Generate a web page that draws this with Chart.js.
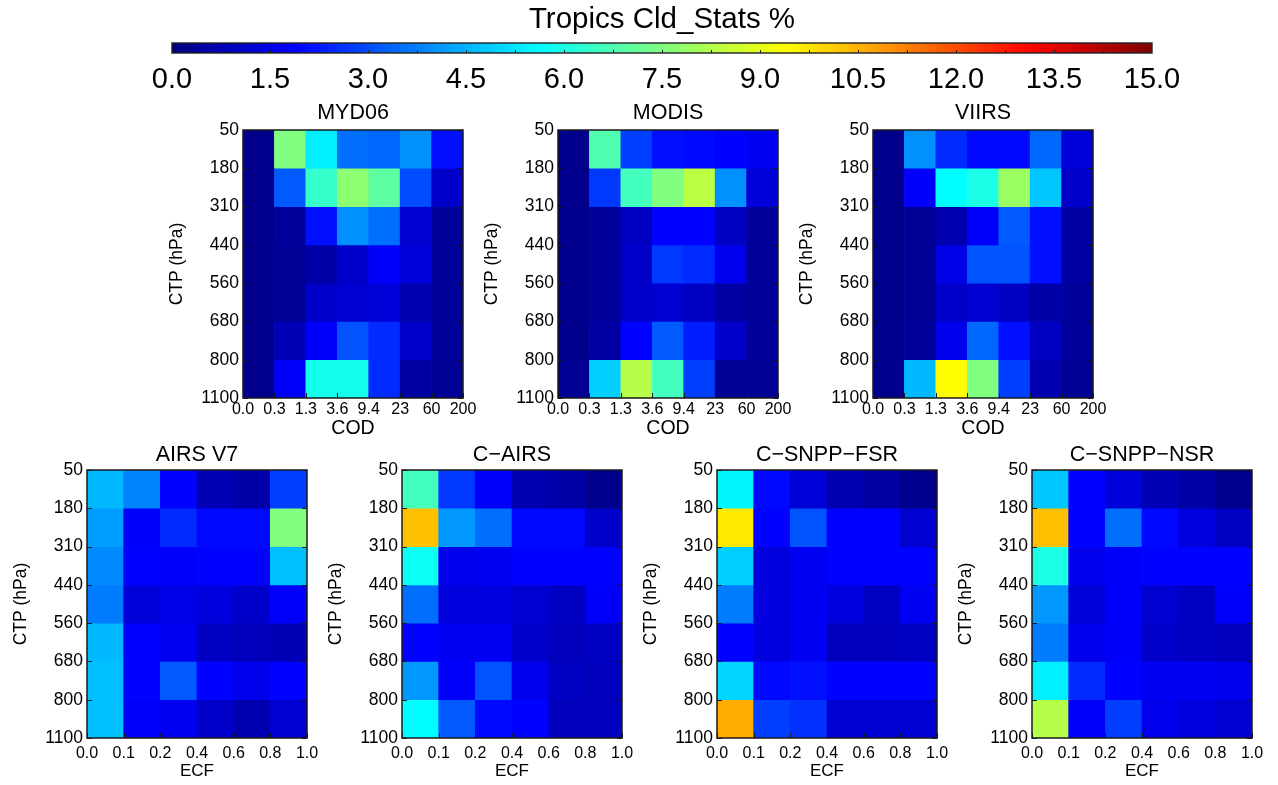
<!DOCTYPE html>
<html>
<head>
<meta charset="utf-8">
<title>Tropics Cld_Stats %</title>
<script src="https://cdn.jsdelivr.net/npm/chart.js@4.4.1/dist/chart.umd.min.js"></script>
<style>
  html, body { margin: 0; padding: 0; background: #fff; overflow: hidden; }
  #page { position: relative; width: 1278px; height: 785px; }
  .panel { position: absolute; }
</style>
</head>
<body>
<div id="page"></div>
<script>
// ---- data ----
const codEdges = ["0.0", "0.3", "1.3", "3.6", "9.4", "23", "60", "200"];
const ecfEdges = ["0.0", "0.1", "0.2", "0.4", "0.6", "0.8", "1.0"];
const ctpEdges = ["50", "180", "310", "440", "560", "680", "800", "1100"];
const colorMin = 0;
const colorMax = 15;
const colorStep = 1.5;

// rows top -> bottom (50-180 ... 800-1100), columns left -> right
const myd06 = [
  [0.2, 7.5, 5.4, 3.5, 3.4, 4.0, 2.1],
  [0.2, 3.2, 6.4, 7.7, 7.0, 3.0, 1.1],
  [0.2, 0.4, 2.1, 4.0, 3.5, 1.2, 0.4],
  [0.2, 0.3, 0.6, 1.1, 1.8, 1.3, 0.4],
  [0.2, 0.3, 1.1, 1.2, 1.3, 0.7, 0.4],
  [0.2, 0.8, 1.8, 3.1, 2.5, 1.1, 0.4],
  [0.2, 1.8, 5.9, 5.9, 2.5, 0.5, 0.3]
];
const modis = [
  [0.2, 6.8, 2.8, 2.1, 2.0, 1.9, 1.7],
  [0.2, 2.7, 6.6, 7.5, 8.4, 4.0, 1.3],
  [0.2, 0.4, 1.0, 1.9, 1.9, 1.0, 0.4],
  [0.2, 0.4, 1.1, 2.7, 2.5, 1.6, 0.4],
  [0.2, 0.4, 1.1, 1.2, 1.0, 0.5, 0.4],
  [0.2, 0.5, 1.9, 3.2, 2.3, 1.1, 0.4],
  [0.3, 4.9, 8.3, 6.6, 2.8, 0.3, 0.3]
];
const viirs = [
  [0.2, 4.0, 2.5, 2.0, 2.0, 3.4, 1.3],
  [0.2, 1.8, 5.6, 6.0, 7.9, 4.8, 1.1],
  [0.2, 0.3, 0.7, 1.8, 3.2, 2.1, 0.5],
  [0.2, 0.3, 1.5, 3.1, 3.1, 2.1, 0.5],
  [0.2, 0.3, 1.1, 1.2, 1.0, 0.6, 0.4],
  [0.2, 0.4, 1.6, 3.4, 2.1, 1.0, 0.4],
  [0.2, 4.6, 9.4, 7.5, 2.8, 0.7, 0.3]
];
const airsV7 = [
  [4.6, 3.8, 1.9, 0.8, 0.6, 2.8],
  [4.2, 1.8, 2.5, 2.0, 2.0, 7.5],
  [3.9, 1.9, 1.8, 1.9, 1.9, 4.7],
  [3.7, 1.3, 1.5, 1.4, 1.1, 1.8],
  [4.6, 1.9, 1.7, 1.0, 0.9, 0.8],
  [4.7, 1.9, 3.2, 1.9, 1.6, 1.9],
  [4.7, 1.8, 1.7, 1.1, 0.7, 1.2]
];
const cAirs = [
  [6.6, 2.7, 1.8, 0.7, 0.6, 0.2],
  [10.3, 4.1, 3.5, 2.0, 2.0, 1.1],
  [5.8, 1.6, 1.7, 1.9, 1.9, 1.9],
  [3.5, 1.4, 1.4, 1.2, 1.0, 1.8],
  [1.9, 1.7, 1.7, 1.1, 0.9, 1.0],
  [4.1, 1.8, 3.1, 1.6, 1.0, 0.9],
  [5.6, 3.2, 2.0, 1.9, 0.9, 0.9]
];
const cSnppFsr = [
  [5.5, 2.0, 1.3, 0.7, 0.5, 0.2],
  [9.7, 1.9, 3.1, 1.9, 1.9, 1.2],
  [4.9, 1.4, 1.7, 1.9, 1.9, 1.9],
  [3.7, 1.4, 1.7, 1.4, 1.0, 1.7],
  [1.9, 1.4, 1.7, 0.9, 0.9, 1.0],
  [5.0, 2.0, 2.1, 1.9, 1.9, 1.9],
  [10.6, 2.8, 2.6, 1.2, 1.2, 1.2]
];
const cSnppNsr = [
  [4.8, 1.9, 1.3, 0.8, 0.6, 0.2],
  [10.3, 1.9, 3.5, 2.0, 1.4, 1.0],
  [6.0, 1.6, 1.8, 1.9, 1.9, 1.9],
  [4.1, 1.3, 1.8, 1.2, 1.0, 1.8],
  [3.7, 1.6, 1.8, 1.1, 1.0, 0.9],
  [5.4, 2.5, 1.9, 1.7, 1.7, 1.6],
  [8.3, 1.8, 2.8, 1.6, 1.4, 1.2]
];

const FONT = "'Liberation Sans', Arial, Helvetica, sans-serif";

// jet colour map, 0..15 %
function jet(v) {
  const t = Math.max(0, Math.min(1, (v - colorMin) / (colorMax - colorMin)));
  const f = (x) => Math.round(255 * Math.max(0, Math.min(1, 1.5 - Math.abs(x))));
  return "rgb(" + f(4 * t - 3) + "," + f(4 * t - 2) + "," + f(4 * t - 1) + ")";
}

/* ==========================
   PLUGINS
========================== */
// black frame + short inward ticks like the IDL plots
const frameTicks = {
  id: "frameTicks",
  afterDatasetsDraw(chart) {
    const { ctx, chartArea: a, scales } = chart;
    const len = 5;
    ctx.save();
    ctx.strokeStyle = "#1a1a1a";
    ctx.lineWidth = 1;
    ctx.beginPath();
    scales.x.ticks.forEach((t) => {
      const px = Math.round(scales.x.getPixelForValue(t.value)) + 0.5;
      ctx.moveTo(px, a.bottom);
      ctx.lineTo(px, a.bottom - len);
    });
    scales.y.ticks.forEach((t) => {
      const py = Math.round(scales.y.getPixelForValue(t.value)) + 0.5;
      ctx.moveTo(a.left, py);
      ctx.lineTo(a.left + len, py);
      ctx.moveTo(a.right, py);
      ctx.lineTo(a.right - len, py);
    });
    ctx.stroke();
    ctx.lineWidth = 1.5;
    ctx.strokeRect(a.left, a.top, a.right - a.left, a.bottom - a.top);
    ctx.restore();
  }
};

// gradient fill for the colour bar
const colorbarFill = {
  id: "colorbarFill",
  beforeDatasetsDraw(chart) {
    const { ctx, chartArea: a, scales: { x } } = chart;
    const g = ctx.createLinearGradient(a.left, 0, a.right, 0);
    [0, 0.125, 0.375, 0.625, 0.875, 1].forEach((s) => {
      g.addColorStop(s, jet(colorMin + s * (colorMax - colorMin)));
    });
    ctx.save();
    ctx.fillStyle = g;
    ctx.fillRect(a.left, a.top, a.right - a.left, a.bottom - a.top);
    ctx.strokeStyle = "#222";
    ctx.lineWidth = 1;
    ctx.beginPath();
    for (let v = colorStep / 2; v < colorMax; v += colorStep / 2) {
      const px = Math.round(x.getPixelForValue(v)) + 0.5;
      ctx.moveTo(px, a.bottom);
      ctx.lineTo(px, a.bottom - 3);
    }
    ctx.stroke();
    ctx.lineWidth = 1.4;
    ctx.strokeRect(a.left, a.top, a.right - a.left, a.bottom - a.top);
    ctx.restore();
  }
};

/* ==========================
   HELPERS
========================== */
function addCanvas(left, top, w, h) {
  const div = document.createElement("div");
  div.className = "panel";
  div.style.left = left + "px";
  div.style.top = top + "px";
  const c = document.createElement("canvas");
  c.width = w;
  c.height = h;
  c.style.width = w + "px";
  c.style.height = h + "px";
  div.appendChild(c);
  document.getElementById("page").appendChild(div);
  return c;
}

function buildDatasets(values) {
  return values.map((row, r) => ({
    label: ctpEdges[r] + "-" + ctpEdges[r + 1],
    data: row.map((v, c) => ({ x: c + 0.5, y: [r, r + 1], v: v })),
    backgroundColor: row.map(jet),
    borderWidth: 0,
    barPercentage: 1,
    categoryPercentage: 1,
    grouped: false
  }));
}

function createPanel(p) {
  const W = 325, H = 343;
  const canvas = addCanvas(p.left, p.top, W, H);
  const bottomRow = p.xEdges.length === 7;
  const nCols = p.xEdges.length - 1;
  return new Chart(canvas, {
    type: "bar",
    data: { datasets: buildDatasets(p.values) },
    options: {
      responsive: false,
      animation: false,
      layout: { padding: { left: 0, right: 25, top: 0, bottom: 0 } },
      plugins: {
        legend: { display: false },
        tooltip: { enabled: false },
        title: {
          display: true,
          fullSize: false,
          text: p.title,
          color: "#000",
          font: { family: FONT, size: 21.5, weight: "normal", lineHeight: 1.2 },
          padding: bottomRow ? { top: 2.1, bottom: 2.1 } : { top: 0.6, bottom: 3.6 }
        }
      },
      scales: {
        x: {
          type: "linear",
          offset: false,
          min: 0,
          max: nCols,
          grid: { display: false, drawTicks: false },
          border: { display: false },
          ticks: {
            stepSize: 1,
            autoSkip: false,
            maxRotation: 0,
            minRotation: 0,
            color: "#000",
            padding: bottomRow ? 6 : 2,
            font: { family: FONT, size: 16 },
            callback: (v) => p.xEdges[v]
          },
          title: {
            display: true,
            text: p.xTitle,
            color: "#000",
            font: { family: FONT, size: bottomRow ? 17 : 19.5, lineHeight: 1.2 },
            padding: { top: 0, bottom: bottomRow ? 1 : 2.5 }
          },
          afterFit: (s) => { s.height = 45; }
        },
        y: {
          type: "linear",
          offset: false,
          min: 0,
          max: ctpEdges.length - 1,
          reverse: true,
          grid: { display: false, drawTicks: false },
          border: { display: false },
          ticks: {
            stepSize: 1,
            autoSkip: false,
            color: "#000",
            padding: 4,
            font: { family: FONT, size: 17.5 },
            callback: (v) => ctpEdges[v]
          },
          title: {
            display: true,
            text: "CTP (hPa)",
            color: "#000",
            font: { family: FONT, size: 17.5, lineHeight: 1.2 },
            padding: { top: 3.5, bottom: 0 }
          },
          afterFit: (s) => { s.width = 80; }
        }
      }
    },
    plugins: [frameTicks]
  });
}

function createColorbar() {
  const canvas = addCanvas(0, 0, 1278, 100);
  return new Chart(canvas, {
    type: "bar",
    data: { datasets: [] },
    options: {
      responsive: false,
      animation: false,
      layout: { padding: { left: 172, right: 126, top: 0, bottom: 0 } },
      plugins: {
        legend: { display: false },
        tooltip: { enabled: false },
        title: {
          display: true,
          fullSize: false,
          text: "Tropics Cld_Stats %",
          color: "#000",
          font: { family: FONT, size: 29.5, weight: "normal", lineHeight: 1.2 },
          padding: { top: 2.3, bottom: 5.3 }
        }
      },
      scales: {
        x: {
          type: "linear",
          offset: false,
          min: colorMin,
          max: colorMax,
          grid: { display: false, drawTicks: false },
          border: { display: false },
          ticks: {
            stepSize: colorStep,
            autoSkip: false,
            maxRotation: 0,
            color: "#000",
            padding: 9.5,
            font: { family: FONT, size: 29 },
            callback: (v) => Number(v).toFixed(1)
          },
          afterFit: (s) => { s.height = 47; }
        },
        y: { display: false, min: 0, max: 1 }
      }
    },
    plugins: [colorbarFill]
  });
}

/* ==========================
   INIT
========================== */
const panels = [
  { title: "MYD06", values: myd06, xEdges: codEdges, xTitle: "COD", left: 163, top: 100 },
  { title: "MODIS", values: modis, xEdges: codEdges, xTitle: "COD", left: 478, top: 100 },
  { title: "VIIRS", values: viirs, xEdges: codEdges, xTitle: "COD", left: 793, top: 100 },
  { title: "AIRS V7", values: airsV7, xEdges: ecfEdges, xTitle: "ECF", left: 7, top: 440 },
  { title: "C\u2212AIRS", values: cAirs, xEdges: ecfEdges, xTitle: "ECF", left: 322, top: 440 },
  { title: "C\u2212SNPP\u2212FSR", values: cSnppFsr, xEdges: ecfEdges, xTitle: "ECF", left: 637, top: 440 },
  { title: "C\u2212SNPP\u2212NSR", values: cSnppNsr, xEdges: ecfEdges, xTitle: "ECF", left: 952, top: 440 }
];

try {
  createColorbar();
  panels.forEach(createPanel);
} catch (e) {
  console.warn("Chart init failed", e);
}
</script>
</body>
</html>
